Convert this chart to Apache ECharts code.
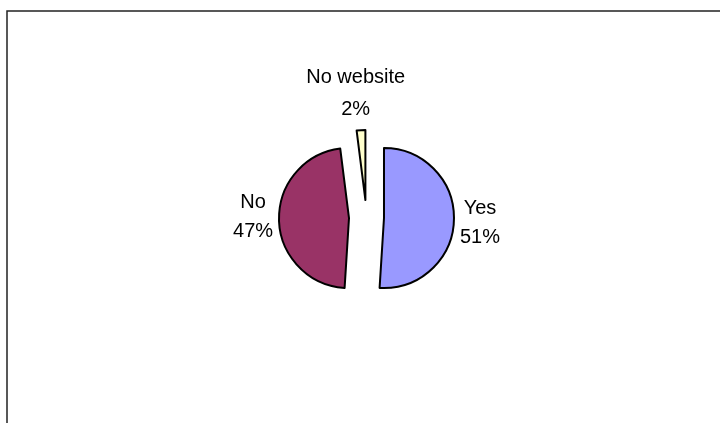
<!DOCTYPE html>
<html>
<head>
<meta charset="utf-8">
<script src="https://cdn.jsdelivr.net/npm/echarts@6/dist/echarts.min.js"></script>
<style>
  html, body { margin: 0; padding: 0; background: #fff; }
  #chart { width: 720px; height: 423px; }
</style>
</head>
<body>
<div id="chart"></div>
<script>
// Data
const categories = ['Yes', 'No', 'No website'];
const values = [51, 47, 2];
const colors = ['#9999FF', '#993366', '#FFFFCC'];

const chart = echarts.init(document.getElementById('chart'), null, { renderer: 'canvas' });

const itemLabelTweaks = [
  { lineHeight: 29 },
  { lineHeight: 29 },
  { lineHeight: 32 }
];
const itemLineTweaks = [
  { length: 10, length2: 11 },
  { length: 10, length2: 11 },
  { length: 37, length2: 0 }
];
// small label nudges (style only)
const labelNudge = [[0, 2], [0, -4], [2, 0]];

const data = categories.map((name, i) => ({
  name: name,
  value: values[i],
  selected: true,
  itemStyle: { color: colors[i] },
  select: { itemStyle: { color: colors[i], borderColor: '#000', borderWidth: 2 } },
  label: itemLabelTweaks[i],
  labelLine: Object.assign({ show: false }, itemLineTweaks[i])
}));

chart.setOption({
  animation: false,
  backgroundColor: '#ffffff',
  graphic: [{
    type: 'rect',
    shape: { x: 7, y: 11, width: 800, height: 600 },
    style: { fill: 'none', stroke: '#222', lineWidth: 1.5 },
    silent: true
  }],
  series: [{
    type: 'pie',
    center: [366.5, 217.5],
    radius: 70,
    startAngle: 90,
    clockwise: true,
    selectedMode: 'multiple',
    selectedOffset: 17.5,
    avoidLabelOverlap: false,
    itemStyle: { borderColor: '#000', borderWidth: 2 },
    emphasis: { disabled: true },
    label: {
      show: true,
      position: 'outside',
      formatter: '{b}\n{d}%',
      color: '#000',
      fontFamily: 'Liberation Sans, Arial, sans-serif',
      fontSize: 20,
      lineHeight: 29,
      distanceToLabelLine: 5
    },
    labelLine: { show: false, length: 10, length2: 11 },
    labelLayout: function (p) {
      const n = labelNudge[p.dataIndex] || [0, 0];
      return { align: 'center', dx: n[0], dy: n[1] };
    },
    percentPrecision: 0,
    data: data
  }]
});
</script>
</body>
</html>
